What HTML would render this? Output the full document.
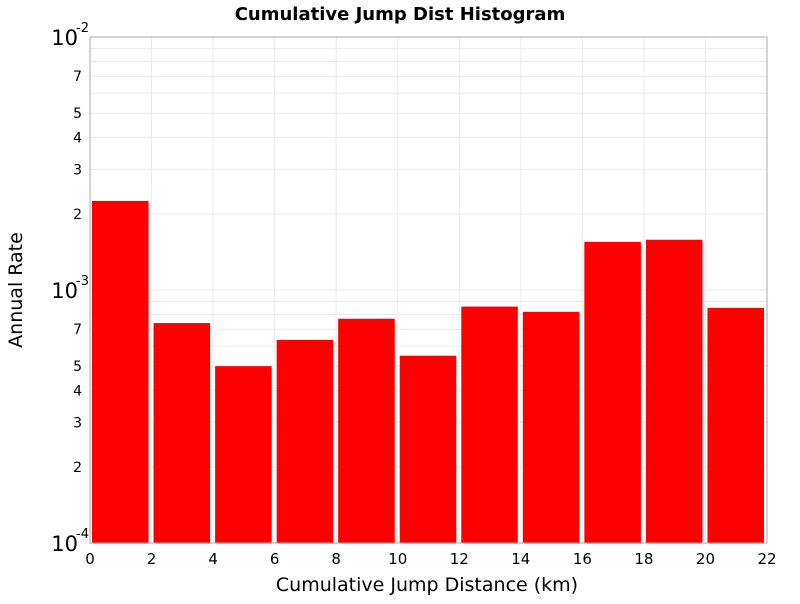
<!DOCTYPE html>
<html><head><meta charset="utf-8"><style>
body{margin:0;background:#fff;font-family:"DejaVu Sans","Liberation Sans",sans-serif}
</style></head><body>
<svg id="c" width="800" height="600" xmlns="http://www.w3.org/2000/svg">
<text x="400" y="20" text-anchor="middle" font-size="18" font-weight="bold">Cumulative Jump Dist Histogram</text>
<text x="427" y="591" text-anchor="middle" font-size="19">Cumulative Jump Distance (km)</text>
<text transform="translate(22,290) rotate(-90)" text-anchor="middle" font-size="19">Annual Rate</text>
<g id="grid"></g><g id="bars"></g><g id="axes"></g>
</svg>
<script>
const binStarts=[0,2,4,6,8,10,12,14,16,18,20];
const binWidth=2;
const rates=[2.25e-3,7.4e-4,5.0e-4,6.35e-4,7.7e-4,5.5e-4,8.6e-4,8.2e-4,1.55e-3,1.58e-3,8.5e-4];
const xTicks=[0,2,4,6,8,10,12,14,16,18,20,22];
const decades=[-4,-3,-2];
const minorLabels=[2,3,4,5,7];
const L=90,R=767,T=37,B=543,xmin=0,xmax=22,lmin=-4,lmax=-2;
const NS="http://www.w3.org/2000/svg";
const x=v=>L+(v-xmin)/(xmax-xmin)*(R-L);
const y=v=>B-(Math.log10(v)-lmin)/(lmax-lmin)*(B-T);
function mk(tag,attrs,parent,text){const e=document.createElementNS(NS,tag);for(const k in attrs)e.setAttribute(k,attrs[k]);if(text!==undefined)e.textContent=text;document.getElementById(parent).appendChild(e);return e;}
// grid
for(let d=lmin;d<lmax;d++){for(let m=1;m<=9;m++){const v=m*Math.pow(10,d);if(m===1&&d===lmin)continue;const g=mk('line',{x1:L,x2:R,y1:y(v),y2:y(v),stroke:'#ebebeb','stroke-width':1},'grid');

}}
xTicks.forEach(t=>{const g=mk('line',{x1:x(t),x2:x(t),y1:T,y2:B,stroke:'#ebebeb','stroke-width':1},'grid');

});
// bars
binStarts.forEach((s,i)=>{const top=y(rates[i]);const r=mk('rect',{x:x(s)+2,y:top,width:x(s+binWidth)-x(s)-5,height:B-top,fill:'#ff0000'},'bars');

});
// frame
const f=mk('rect',{x:L,y:T,width:R-L,height:B-T,fill:'none',stroke:'#aaa','stroke-width':1},'axes');


xTicks.forEach(t=>{const e=mk('text',{x:x(t),y:564,'text-anchor':'middle','font-size':15},'axes',String(t));

});
decades.forEach(d=>{const v=Math.pow(10,d);const e=mk('text',{x:78,y:y(v)+8,'text-anchor':'end','font-size':21},'axes','10');


const s=mk('text',{x:76,y:y(v)-5,'font-size':13},'axes',String(d));

});
for(let d=lmin;d<lmax;d++){minorLabels.forEach(m=>{const v=m*Math.pow(10,d);const e=mk('text',{x:82,y:y(v)+5,'text-anchor':'end','font-size':14},'axes',String(m));

});}
</script>
</body></html>
